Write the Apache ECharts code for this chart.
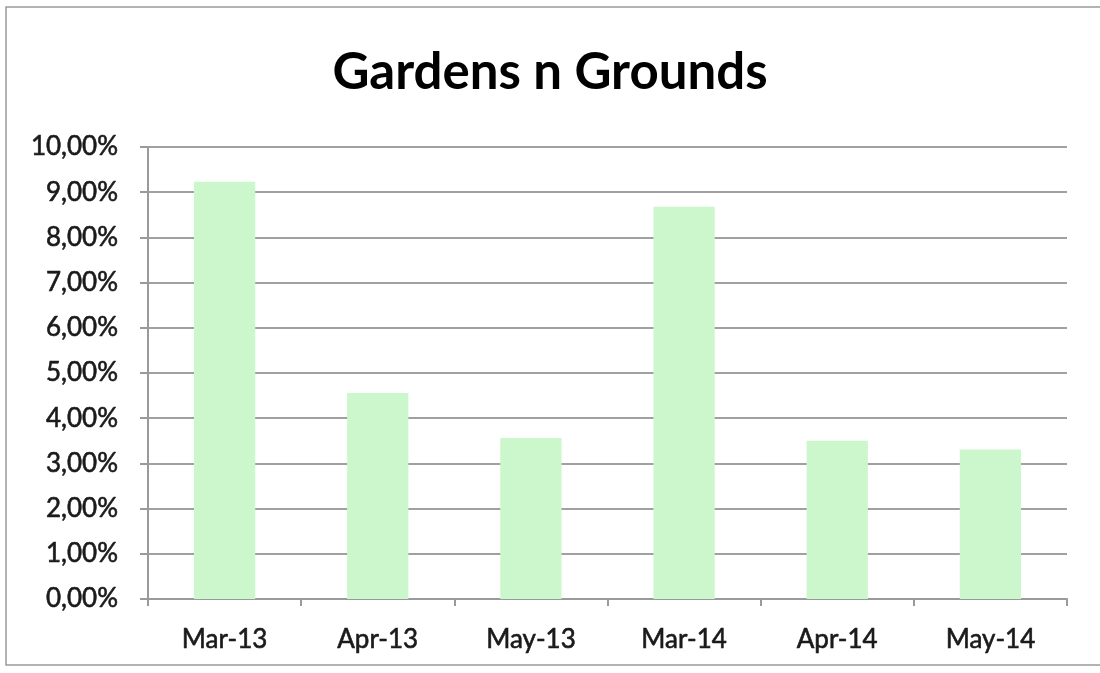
<!DOCTYPE html>
<html><head><meta charset="utf-8">
<script src="https://cdn.jsdelivr.net/npm/echarts@6/dist/echarts.min.js"></script>
<style>html,body{margin:0;padding:0;background:#fff}#c{width:1100px;height:673px}</style>
</head><body><div id="c"></div>
<script>
const titleText = "Gardens n Grounds";
const categories = ["Mar-13","Apr-13","May-13","Mar-14","Apr-14","May-14"];
const values = [9.23, 4.56, 3.56, 8.68, 3.50, 3.31];
const yMin = 0, yMax = 10, yStep = 1;

const chart = echarts.init(document.getElementById('c'), null, {renderer:'canvas'});
const fontFam = 'Lato, "Open Sans", sans-serif';
chart.setOption({
  animation:false,
  backgroundColor:'#fff',
  title:{text:titleText,left:'center',top:42,textStyle:{fontFamily:fontFam,fontWeight:'bold',fontSize:51,color:'#000'}},
  graphic:[{type:'rect',shape:{x:6,y:7,width:1200,height:658},style:{fill:'none',stroke:'#9a9a9a',lineWidth:1.5},silent:true}],
  grid:{left:148,right:33,top:147,bottom:74},
  xAxis:{type:'category',data:categories,
    axisLine:{lineStyle:{color:'#9a9a9a',width:2}},
    axisTick:{show:true,alignWithLabel:false,length:7,lineStyle:{color:'#9a9a9a',width:2}},
    axisLabel:{color:'#1a1a1a',fontFamily:fontFam,fontSize:26,margin:28,
      textBorderColor:'#1a1a1a',textBorderWidth:0.6}},
  yAxis:{type:'value',min:yMin,max:yMax,interval:yStep,
    axisLine:{show:true,lineStyle:{color:'#9a9a9a',width:2}},
    axisTick:{show:true,length:8,lineStyle:{color:'#9a9a9a',width:2}},
    splitLine:{lineStyle:{color:'#a0a0a0',width:2}},
    axisLabel:{color:'#1a1a1a',fontFamily:fontFam,fontSize:26,margin:30,padding:[6,0,0,0],
      textBorderColor:'#1a1a1a',textBorderWidth:0.6,
      formatter:v=>v.toFixed(2).replace('.',',')+'%'}},
  series:[{type:'bar',data:values,barWidth:'40%',itemStyle:{color:'#ccf7cc'}}]
});
</script></body></html>
